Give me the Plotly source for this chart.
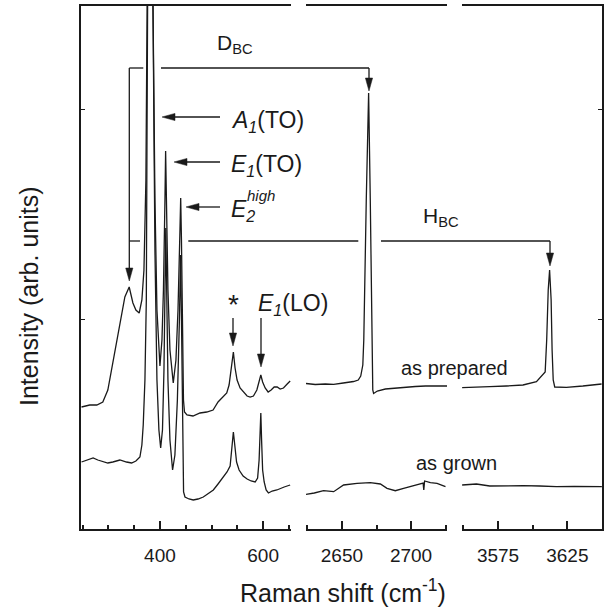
import plotly.graph_objects as go

# ---------------- data (wavenumber in cm^-1, intensity in arb. units) ----------------
prep1_w = [248, 264, 277.7, 289.3, 299, 308.7, 316.5, 322.3, 332, 340.4, 347.6, 353.4, 359.8, 365, 369,
           372.8, 373.8, 380.6, 386.4, 390.3, 394.2, 400, 403.9, 406.8, 409.7, 411, 412.6, 415.5, 419.4,
           425.8, 431, 435, 438.8, 440.2, 441.7, 443.7, 445.6, 447.6, 452.4, 464, 477.7, 490.7, 503,
           512.6, 522.3, 529.5, 534, 537.9, 542.3, 545.6, 549.5, 555.3, 561.7, 568.9, 574.8, 581.2,
           587.8, 592.2, 595.5, 599, 603.9, 609.7, 615.5, 621.4, 627.2, 633, 639.4, 646.6, 652.4]
prep1_i = [122, 124, 124, 127, 139, 167, 189, 202, 232, 242, 226, 219, 216, 229, 259,
           349, 409, 929, 529, 329, 219, 163, 189, 239, 329, 378, 329, 239, 179,
           146, 169, 219, 299, 331, 289, 199, 129, 117, 114, 113, 116, 117, 119,
           127, 132, 136, 144, 159, 177, 161, 149, 141, 137, 133, 132, 133,
           139, 149, 154, 147, 141, 137, 139, 142, 142, 140, 141, 145, 148]

grown1_w = [248, 258, 270.5, 279.6, 289.9, 299, 308.7, 322.3, 335.3, 345, 353.4, 361.2, 365, 367.6,
            370.9, 373.6, 374.8, 380.6, 386.4, 390.3, 394.2, 398, 401.4, 404.9, 407.8, 410.1, 411.3,
            412.8, 415.5, 419.4, 424.5, 429, 433.8, 437.7, 440, 442, 443.9, 445.8, 448.5, 456.3,
            464.5, 473.8, 484, 493, 503.5, 512.6, 522.9, 530, 536, 540, 542.3, 545, 548.5, 553.4,
            561.2, 569, 576.7, 584.5, 589.3, 592.2, 594.2, 595.5, 597, 599, 602, 605.8, 610.3,
            617.5, 626.6, 633, 640.8, 652.4]
grown1_i = [67, 69, 71, 69, 67, 66, 67, 69, 67, 66, 68, 72, 84, 104,
            149, 229, 379, 1029, 529, 279, 149, 99, 81, 99, 159, 249, 301,
            249, 149, 89, 59, 74, 129, 209, 274, 199, 89, 37, 32, 30,
            29, 30, 32, 35, 39, 45, 52, 57, 63, 84, 97, 84, 67, 59,
            53, 50, 48, 47, 51, 69, 99, 116, 89, 59, 47, 39, 36,
            38, 39, 40, 42, 44]

prep2_w = [2624, 2630.7, 2638, 2644, 2651, 2658.4, 2661.8, 2663.6, 2665.1, 2665.8, 2667.6, 2669.3,
           2670.5, 2671.7, 2672.3, 2672.9, 2675.6, 2681.4, 2688.6, 2695.9, 2703.1, 2710.4, 2717.6, 2726]
prep2_i = [145.5, 144.5, 145, 144.7, 146, 147.5, 149, 153, 164, 189, 329, 436,
           329, 169, 139, 135.5, 138, 140, 141, 142, 142.5, 143, 143, 143]

grown2_w = [2624, 2630, 2636.7, 2644, 2651.2, 2660.9, 2670.5, 2677.8, 2682.6, 2688.6, 2694.6,
            2704.3, 2708.7, 2709.2, 2709.8, 2714, 2718.8, 2724.9]
grown2_i = [34.7, 36, 38.3, 37.3, 44, 45.7, 46.3, 45, 40.7, 38.3, 40.7,
            44, 46, 39, 48, 46.3, 45.7, 42.3]

prep3_w = [3549.1, 3559, 3569, 3581, 3593, 3602.7, 3607.4, 3609, 3610.1, 3611.2, 3612.2, 3613.3,
           3614, 3614.8, 3615.9, 3624.3, 3636.2, 3649.7]
prep3_i = [141.3, 141.5, 142.3, 143, 144, 147.3, 154, 157, 189, 239, 259, 229,
           179, 149, 142, 141.7, 143, 145]

grown3_w = [3549.1, 3559.4, 3569, 3581, 3593, 3605, 3617.1, 3630, 3649.9]
grown3_i = [44, 45, 43, 43.5, 43.3, 43, 42.3, 42.5, 42.3]

x_ranges = [[247, 654], [2624, 2726], [3549, 3650]]
major_ticks = [[400, 600], [2650, 2700], [3575, 3625]]
minor_dticks = [50, 25, 25]
y_range = [0, 523]
y_ticks = [210, 420]

# ---------------- layout geometry ----------------
W, H = 607, 608
L, R, T, B = 81, 5, 6, 79
PW, PH = W - L - R, H - T - B
FONT = "Liberation Sans, Arial, sans-serif"
INK = "#1a1a1a"


def X(px):
    return (px - L) / PW


def Y(py):
    return (H - B - py) / PH


domains = [[X(81), X(291)], [X(306), X(447)], [X(462), X(602)]]

fig = go.Figure()
series = [(prep1_w, prep1_i, 1), (grown1_w, grown1_i, 1),
          (prep2_w, prep2_i, 2), (grown2_w, grown2_i, 2),
          (prep3_w, prep3_i, 3), (grown3_w, grown3_i, 3)]
for wv, iv, k in series:
    fig.add_trace(go.Scatter(x=wv, y=iv, mode="lines",
                             line=dict(color=INK, width=1.3),
                             xaxis="x" if k == 1 else f"x{k}",
                             yaxis="y" if k == 1 else f"y{k}",
                             showlegend=False, hoverinfo="skip"))

layout = dict(width=W, height=H, margin=dict(l=L, r=R, t=T, b=B),
              paper_bgcolor="white", plot_bgcolor="white",
              font=dict(family=FONT, color=INK, size=19), showlegend=False)

for k in range(3):
    key = "xaxis" if k == 0 else f"xaxis{k+1}"
    layout[key] = dict(domain=domains[k], range=x_ranges[k],
                       anchor="y" if k == 0 else f"y{k+1}",
                       showline=True, linewidth=2, linecolor=INK, mirror=True,
                       showgrid=False, zeroline=False,
                       tickmode="array", tickvals=major_ticks[k],
                       ticks="inside", ticklen=8, tickwidth=1.5, tickcolor=INK,
                       ticklabelstandoff=8,
                       tickfont=dict(size=19, family=FONT, color=INK),
                       minor=dict(dtick=minor_dticks[k], tick0=0, ticks="inside",
                                  ticklen=4, tickwidth=1.5, tickcolor=INK, showgrid=False))

layout["yaxis"] = dict(anchor="x", range=y_range, showline=True, linewidth=2, linecolor=INK,
                       mirror=False, showgrid=False, zeroline=False,
                       tickmode="array", tickvals=y_ticks, ticks="inside", ticklen=4,
                       tickcolor=INK, showticklabels=False)
layout["yaxis2"] = dict(anchor="x2", range=y_range, visible=False)
layout["yaxis3"] = dict(anchor="x3", range=y_range, side="right", showline=True, linewidth=2,
                        linecolor=INK, showgrid=False, zeroline=False,
                        tickmode="array", tickvals=y_ticks, ticks="inside", ticklen=4,
                        tickcolor=INK, showticklabels=False)

shapes = []


def seg(x0, y0, x1, y1, w=1.3):
    shapes.append(dict(type="line", xref="paper", yref="paper", x0=X(x0), y0=Y(y0),
                       x1=X(x1), y1=Y(y1), line=dict(color=INK, width=w)))


def arrow(x0, y0, x1, y1, hl=13, hw=3.6):
    dx, dy = x1 - x0, y1 - y0
    n = (dx * dx + dy * dy) ** 0.5
    ux, uy = dx / n, dy / n
    bx, by = x1 - ux * hl, y1 - uy * hl
    seg(x0, y0, bx + ux * 2, by + uy * 2)
    px_, py_ = -uy, ux
    pts = [(x1, y1), (bx + px_ * hw, by + py_ * hw), (bx - px_ * hw, by - py_ * hw)]
    path = "M {:.5f},{:.5f} L {:.5f},{:.5f} L {:.5f},{:.5f} Z".format(
        X(pts[0][0]), Y(pts[0][1]), X(pts[1][0]), Y(pts[1][1]), X(pts[2][0]), Y(pts[2][1]))
    shapes.append(dict(type="path", xref="paper", yref="paper", path=path,
                       fillcolor=INK, line=dict(color=INK, width=0.5)))


# D_BC bracket
seg(129.3, 68, 143.3, 68)
seg(161, 68, 369, 68)
arrow(129.3, 68, 129.3, 281)
arrow(369, 68, 369, 91)
# H_BC bracket
seg(129.3, 241, 140, 241)
seg(188.3, 241, 358.3, 241)
seg(381, 241, 550, 241)
arrow(550, 241, 550, 266)
# mode arrows
arrow(220, 117, 162, 117)
arrow(220, 162, 174, 162)
arrow(220, 207, 186, 207)
arrow(233, 318, 233, 346)
arrow(261, 318, 261, 367)

layout["shapes"] = shapes

ann = []


def text(px, py, s, size=20, xanchor="left", yanchor="middle", angle=0):
    ann.append(dict(x=X(px), y=Y(py), xref="paper", yref="paper", text=s, showarrow=False,
                    xanchor=xanchor, yanchor=yanchor, textangle=angle,
                    font=dict(family=FONT, size=size, color=INK)))


text(215, 44, "D<sub>BC</sub>", 21)
text(421, 217, "H<sub>BC</sub>", 21)
text(229, 121, "<i>A</i><sub><i>1</i></sub>(TO)", 23)
text(229, 166, "<i>E</i><sub><i>1</i></sub>(TO)", 23)
text(229, 211, "<i>E</i><sub><i>2</i></sub>", 23)
text(245, 195, "<i>high</i>", 15)
text(233, 304, "*", 28, xanchor="center")
text(256, 304, "<i>E</i><sub><i>1</i></sub>(LO)", 23)
text(454, 368, "as prepared", 20, xanchor="center")
text(456, 463, "as grown", 20, xanchor="center")
text(343, 591, "Raman shift (cm<sup>-1</sup>)", 25, xanchor="center")
text(29, 296, "Intensity (arb. units)", 25, xanchor="center", angle=-90)
layout["annotations"] = ann

fig.update_layout(**layout)
fig.write_html("out.html")
